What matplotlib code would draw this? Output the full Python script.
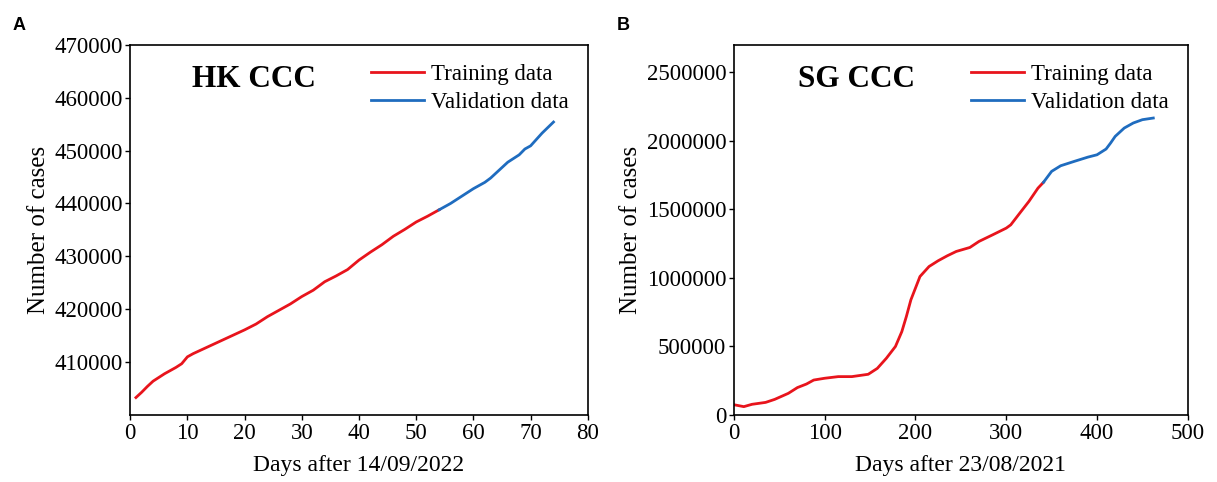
import matplotlib
matplotlib.use('Agg')
import matplotlib.pyplot as plt
from matplotlib.ticker import ScalarFormatter

plt.rcParams['font.family'] = ['Liberation Serif', 'DejaVu Serif']

# HK CCC: cumulative cases vs days after 14/09/2022
hk_train_days = [1, 2, 3, 4, 5, 6, 7, 8, 9, 10, 11, 12, 14, 16, 18, 20, 22, 24,
                 26, 28, 30, 32, 34, 36, 38, 40, 42, 44, 46, 48, 50, 52, 54]
hk_train_cases = [403300, 404300, 405400, 406400, 407100, 407800, 408400, 409000,
                  409700, 411000, 411600, 412100, 413100, 414100, 415100, 416100,
                  417200, 418600, 419800, 421000, 422400, 423600, 425200, 426300,
                  427500, 429300, 430800, 432200, 433800, 435100, 436500, 437600,
                  438800]
hk_val_days = [54, 56, 58, 60, 62, 63, 64, 66, 68, 69, 70, 72, 74]
hk_val_cases = [438800, 440000, 441400, 442800, 444000, 444800, 445800, 447800,
                449200, 450300, 450900, 453300, 455400]

# SG CCC: cumulative cases vs days after 23/08/2021
sg_train_days = [0, 11, 20, 35, 45, 60, 70, 80, 88, 100, 115, 130, 148, 158, 168,
                 178, 185, 190, 195, 200, 205, 215, 225, 235, 245, 260, 270, 285,
                 300, 305, 315, 325, 335, 341]
sg_train_cases = [75000, 61000, 78000, 92000, 114000, 158000, 200000, 226000,
                  255000, 268000, 280000, 280000, 297000, 340000, 414000, 500000,
                  608000, 718000, 840000, 925000, 1010000, 1083000, 1125000,
                  1161000, 1193000, 1222000, 1266000, 1314000, 1363000, 1387000,
                  1473000, 1558000, 1655000, 1697000]
sg_val_days = [341, 350, 360, 375, 390, 400, 410, 415, 420, 430, 440, 450, 462]
sg_val_cases = [1697000, 1777000, 1818000, 1850000, 1881000, 1898000, 1940000,
                1984000, 2032000, 2093000, 2130000, 2154000, 2166000]

RED = '#e8141c'
BLUE = '#1f6cbf'


def panel(ax, tr_x, tr_y, va_x, va_y, name, xlabel):
    ax.plot(tr_x, tr_y, color=RED, lw=2, label='Training data')
    ax.plot(va_x, va_y, color=BLUE, lw=2, label='Validation data')
    ax.set_xlabel(xlabel, fontsize=17, labelpad=8)
    ax.set_ylabel('Number of cases', fontsize=18, labelpad=3)
    ax.tick_params(labelsize=16.5, direction='out', length=3.5, width=1, pad=2)
    fmt = ScalarFormatter(useOffset=False)
    fmt.set_scientific(False)
    ax.yaxis.set_major_formatter(fmt)
    for s in ax.spines.values():
        s.set_linewidth(1.2)
    ax.text(0.27, 0.905, name, transform=ax.transAxes, fontsize=22.5,
            fontweight='bold', ha='center', va='center')
    ax.legend(loc='upper right', bbox_to_anchor=(1.0, 1.0), frameon=False,
              fontsize=16.5, handlelength=2.3, handletextpad=0.3,
              labelspacing=0.3, borderaxespad=0.45)


fig = plt.figure(figsize=(12.17, 4.82), dpi=100)
ax1 = fig.add_axes([0.107, 0.139, 0.376, 0.768])
ax2 = fig.add_axes([0.603, 0.139, 0.373, 0.768])

panel(ax1, hk_train_days, hk_train_cases, hk_val_days, hk_val_cases,
      'HK CCC', 'Days after 14/09/2022')
ax1.set_xlim(0, 80)
ax1.set_xticks(range(0, 81, 10))
ax1.set_ylim(400000, 470000)
ax1.set_yticks(range(410000, 470001, 10000))

panel(ax2, sg_train_days, sg_train_cases, sg_val_days, sg_val_cases,
      'SG CCC', 'Days after 23/08/2021')
ax2.set_xlim(0, 500)
ax2.set_xticks(range(0, 501, 100))
ax2.set_ylim(0, 2700000)
ax2.set_yticks(range(0, 2500001, 500000))

fig.text(0.010, 0.948, 'A', fontsize=13, fontweight='bold',
         family=['Liberation Sans', 'DejaVu Sans'], va='center')
fig.text(0.507, 0.948, 'B', fontsize=13, fontweight='bold',
         family=['Liberation Sans', 'DejaVu Sans'], va='center')

fig.savefig('out.png', dpi=100)
